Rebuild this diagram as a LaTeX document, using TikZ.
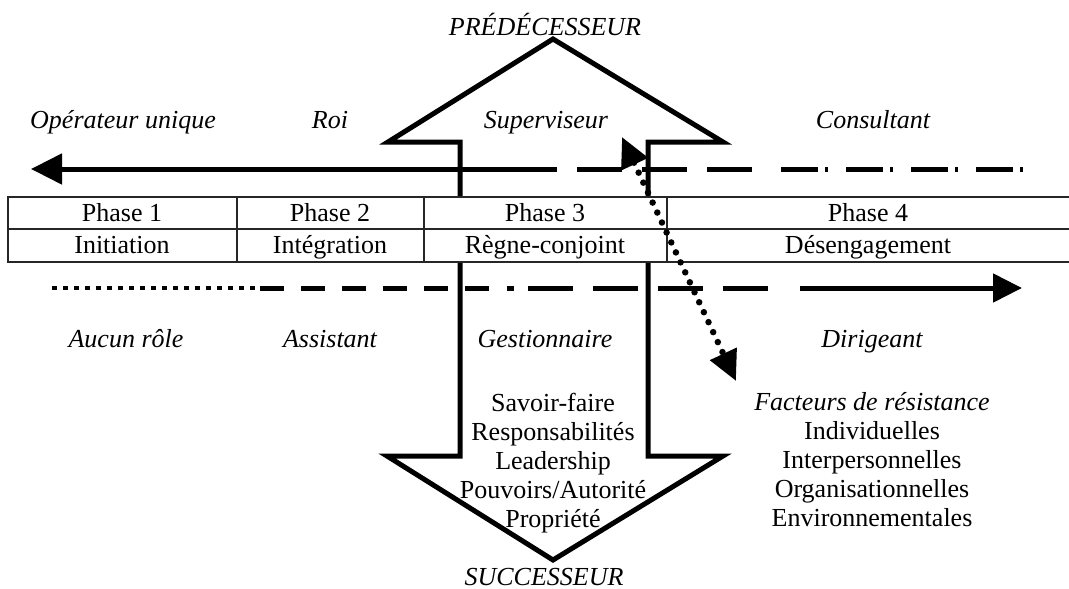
\documentclass[tikz,border=0pt]{standalone}
\usepackage{fontspec}
\setmainfont{Liberation Serif}
\usetikzlibrary{arrows.meta}
\tikzset{
  role/.style={font=\fontsize{26}{30}\selectfont\itshape, inner sep=0pt, text height=21pt, text depth=5pt},
  cell/.style={font=\fontsize{26}{30}\selectfont, inner sep=0pt, text height=21pt, text depth=5pt},
  heavy/.style={line width=5pt},
  thin/.style={line width=1.2pt, draw=black!85},
  bighead/.style={-{Triangle[length=31pt,width=30pt]}},
}
\begin{document}
\begin{tikzpicture}[x=1pt,y=-1pt]
\useasboundingbox (0,0) rectangle (1069,589);
% double block arrow
\draw [heavy, line join=miter] (553,39) -- (723,142) -- (648,142) -- (648,456) -- (723,456) -- (553,560) -- (387,456) -- (460,456) -- (460,142) -- (388,142) -- cycle;
% phase table
\draw [thin, fill=white] (8,197) rectangle (1080,262);
\draw [thin] (8,229) -- (1080,229);
\draw [thin] (237,197) -- (237,262);
\draw [thin] (424,197) -- (424,262);
\draw [thin] (667,197) -- (667,262);
% upper arrow (predecessor)
\coordinate (ua) at (31,169);
\coordinate (ub) at (557,169);
\coordinate (uc) at (577,169);
\coordinate (ud) at (752,169);
\coordinate (ue) at (781,169);
\coordinate (uf) at (1023,169);
\draw [heavy, bighead] (ub) -- (ua);
\draw [heavy, dash pattern=on 45pt off 20pt] (uc) -- (ud);
\draw [heavy, dash pattern=on 37pt off 7pt on 3pt off 18pt] (ue) -- (uf);
% lower arrow (successor)
\coordinate (la) at (52,288);
\coordinate (lb) at (256,288);
\coordinate (lc) at (260,288);
\coordinate (ld) at (490,288);
\coordinate (le) at (507,288);
\coordinate (lf) at (514,288);
\coordinate (lg) at (528,288);
\coordinate (lh) at (769,288);
\coordinate (li) at (800,288);
\coordinate (lj) at (1022,288);
\draw [line width=4.5pt, dash pattern=on 4.5pt off 6.5pt] (la) -- (lb);
\draw [heavy, dash pattern=on 24pt off 17pt] (lc) -- (ld);
\draw [heavy] (le) -- (lf);
\draw [heavy, dash pattern=on 45pt off 20pt] (lg) -- (lh);
\draw [heavy, -{Triangle[length=29pt,width=28pt]}] (li) -- (lj);
% resistance arrow
\coordinate (rt) at (622,137);
\coordinate (rb) at (736,381);
\draw [line width=6.5pt, line cap=round, dash pattern=on 0pt off 11pt,
  {Triangle[length=30pt,width=28pt]}-{Triangle[length=30pt,width=28pt]}] (rt) -- (rb);
% labels
\node [role] (pred) at (545,27) {PRÉDÉCESSEUR};
\node [role] (succ) at (544,577) {SUCCESSEUR};
\node [role] (opu) at (123,120) {Opérateur unique};
\node [role] (roi) at (330,120) {Roi};
\node [role] (sup) at (546,120) {Superviseur};
\node [role] (cons) at (873,120) {Consultant};
\node [role] (auc) at (126,339) {Aucun rôle};
\node [role] (ass) at (330,339) {Assistant};
\node [role] (gest) at (545,339) {Gestionnaire};
\node [role] (dir) at (872,339) {Dirigeant};
\node [cell] (p1) at (122,213) {Phase 1};
\node [cell] (p2) at (330,213) {Phase 2};
\node [cell] (p3) at (545,213) {Phase 3};
\node [cell] (p4) at (868,213) {Phase 4};
\node [cell] (n1) at (122,245) {Initiation};
\node [cell] (n2) at (330,245) {Intégration};
\node [cell] (n3) at (545,245) {Règne-conjoint};
\node [cell] (n4) at (868,245) {Désengagement};
\node [cell] (t1) at (553,403) {Savoir-faire};
\node [cell] (t2) at (553,432) {Responsabilités};
\node [cell] (t3) at (553,461) {Leadership};
\node [cell] (t4) at (553,490) {Pouvoirs/Autorité};
\node [cell] (t5) at (553,519) {Propriété};
\node [role] (fac) at (872,402) {Facteurs de résistance};
\node [cell] (f1) at (872,431) {Individuelles};
\node [cell] (f2) at (872,460) {Interpersonnelles};
\node [cell] (f3) at (872,489) {Organisationnelles};
\node [cell] (f4) at (872,518) {Environnementales};
\end{tikzpicture}
\end{document}
